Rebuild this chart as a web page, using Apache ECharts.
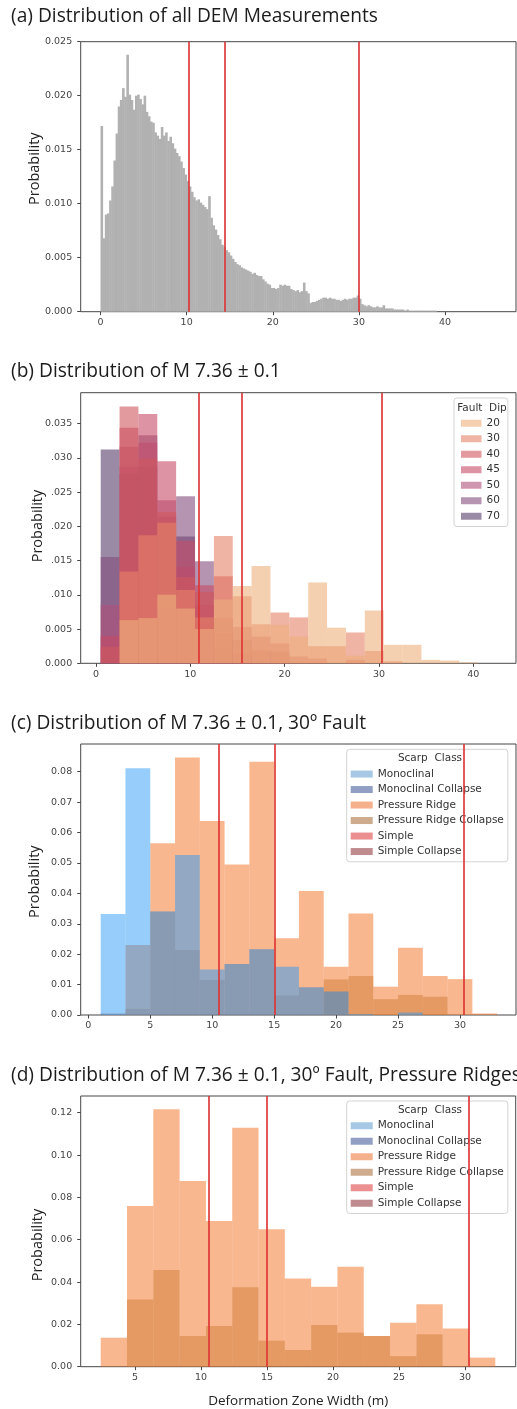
<!DOCTYPE html>
<html>
<head>
<meta charset="utf-8">
<script src="https://cdn.jsdelivr.net/npm/echarts@6/dist/echarts.min.js"></script>
<style>
  html, body { margin: 0; padding: 0; background: #ffffff; }
  #chart { width: 517px; height: 1409px; }
</style>
</head>
<body>
<div id="chart"></div>
<script>
// ---------- (a) all DEM measurements: probability per 0.25 m bin from 0 m ----------
const demBinStart = 0;
const demBinWidth = 0.25;
const demProbability = [
  0.0172, 0.0068, 0.0090, 0.0091, 0.0103, 0.0116, 0.0140, 0.0165,
  0.0190, 0.0196, 0.0207, 0.0199, 0.0238, 0.0201, 0.0196, 0.0187,
  0.0200, 0.0201, 0.0197, 0.0192, 0.0200, 0.0185, 0.0181, 0.0176,
  0.0175, 0.0166, 0.0163, 0.0160, 0.0171, 0.0163, 0.0166, 0.0158,
  0.0162, 0.0156, 0.0151, 0.0147, 0.0144, 0.0139, 0.0133, 0.0127,
  0.0121, 0.0116, 0.0111, 0.0106, 0.0103, 0.0104, 0.0101, 0.0099,
  0.0097, 0.0095, 0.0107, 0.0087, 0.0080, 0.0076, 0.0071, 0.0067,
  0.0062, 0.0060, 0.0057, 0.0055, 0.0052, 0.0049, 0.0046, 0.0044,
  0.0043, 0.0041, 0.0040, 0.0039, 0.0038, 0.0037, 0.0035, 0.0036,
  0.0034, 0.0033, 0.0033, 0.0030, 0.0028, 0.0026, 0.0025, 0.0022,
  0.0022, 0.0021, 0.0022, 0.0025, 0.0024, 0.0025, 0.0024, 0.0024,
  0.0021, 0.0020, 0.0019, 0.0020, 0.0018, 0.0019, 0.0027, 0.0019,
  0.0017, 0.0008, 0.0009, 0.0009, 0.0010, 0.0011, 0.0012, 0.0013,
  0.0013, 0.0012, 0.0013, 0.0012, 0.0012, 0.0011, 0.0011, 0.0010,
  0.0011, 0.0012, 0.0011, 0.0012, 0.0012, 0.0013, 0.0013, 0.0015,
  0.0012, 0.0007, 0.0006, 0.0005, 0.0006, 0.0005, 0.0004, 0.0004,
  0.0005, 0.0004, 0.0004, 0.0006, 0.0003, 0.0003, 0.0003, 0.0003,
  0.0002, 0.0002, 0.0002, 0.0002, 0.0002, 0.0001, 0.0002, 0.0001,
  0.0001, 0.0001, 0.0001, 0.0001, 0.0001, 0.0001, 0.0001, 0.0001,
  0.0001, 0.0001, 0.0001, 0.0001
];
const demRefLines = [10.3, 14.4, 30.0];
const demTicksX = [0, 10, 20, 30, 40];
const demTicksY = [0, 0.005, 0.010, 0.015, 0.020, 0.025];
const demTickLabelsY = ['0.000', '0.005', '0.010', '0.015', '0.020', '0.025'];

// ---------- (b) M 7.36 ± 0.1 by fault dip: probability per 2 m bin from 0.5 m ----------
const dipBinStart = 0.5;
const dipBinWidth = 2;
const dipNames = ['20', '30', '40', '45', '50', '60', '70'];
const dip20 = [0, 0.0063, 0.0066, 0.0100, 0.0080, 0.0050, 0.0093, 0.0113, 0.0142, 0.0056, 0.0039, 0.0118, 0.0052, 0.0011, 0.0077, 0.0027, 0.0027, 0.0005, 0.0004, 0.00015];
const dip30 = [0, 0.0134, 0.0187, 0.0205, 0.0107, 0.0067, 0.0186, 0.0098, 0.0057, 0.0074, 0.0067, 0.0025, 0.0025, 0.0045, 0.0018, 0.0003, 0, 0, 0, 0];
const dip40 = [0.0024, 0.0375, 0.0299, 0.0221, 0.0126, 0.0104, 0.0127, 0.0053, 0.0039, 0.0029, 0.0010, 0.0007, 0, 0.0005, 0, 0, 0, 0, 0, 0];
const dip45 = [0.0040, 0.0344, 0.0364, 0.0295, 0.0179, 0.0114, 0.0066, 0.0034, 0.0019, 0.0017, 0, 0, 0, 0, 0, 0, 0, 0, 0, 0];
const dip50 = [0.0085, 0.0316, 0.0322, 0.0238, 0.0141, 0.0085, 0.0044, 0.0015, 0, 0, 0, 0, 0, 0, 0, 0, 0, 0, 0, 0];
const dip60 = [0.0155, 0.0287, 0.0333, 0.0214, 0.0244, 0.0149, 0.0024, 0, 0, 0, 0, 0, 0, 0, 0, 0, 0, 0, 0, 0];
const dip70 = [0.0312, 0.0277, 0.0287, 0.0080, 0.0185, 0.0060, 0, 0, 0, 0, 0, 0, 0, 0, 0, 0, 0, 0, 0, 0];
const dipRefLines = [10.9, 15.45, 30.3];
const dipTicksX = [0, 10, 20, 30, 40];
const dipTicksY = [0, 0.005, 0.010, 0.015, 0.020, 0.025, 0.030, 0.035];
const dipTickLabelsY = ['0.000', '0.005', '.010', '.015', '.020', '.025', '.030', '0.035'];

// ---------- (c) 30º fault by scarp class: probability per 2 m bin from 1 m ----------
const scarpNames = ['Monoclinal', 'Monoclinal Collapse', 'Pressure Ridge', 'Pressure Ridge Collapse', 'Simple', 'Simple Collapse'];
const faultBinStart = 1;
const faultBinWidth = 2;
const faultPressureRidge = [0, 0.0230, 0.0565, 0.0847, 0.0638, 0.0495, 0.0833, 0.0252, 0.0408, 0.0159, 0.0334, 0.0093, 0.0221, 0.0128, 0.0118, 0.0005];
const faultPressureRidgeCollapse = [0, 0, 0, 0, 0, 0, 0, 0, 0, 0.0117, 0.0128, 0.0052, 0.0066, 0.0060, 0, 0];
const faultMonoclinal = [0.0332, 0.0811, 0.0340, 0.0526, 0.0150, 0.0168, 0.0216, 0.0159, 0.0091, 0.0077, 0.0003, 0, 0.0008, 0, 0, 0];
const faultMonoclinalCollapse = [0.0006, 0.0020, 0.0340, 0.0214, 0.0115, 0.0168, 0.0216, 0.0064, 0.0091, 0.0077, 0, 0, 0, 0, 0, 0];
const faultSimple = [];
const faultSimpleCollapse = [];
const faultRefLines = [10.5, 15.05, 30.3];
const faultTicksX = [0, 5, 10, 15, 20, 25, 30];
const faultTicksY = [0, 0.01, 0.02, 0.03, 0.04, 0.05, 0.06, 0.07, 0.08];
const faultTickLabelsY = ['0.00', '0.01', '0.02', '0.03', '0.04', '0.05', '0.06', '0.07', '0.08'];

// ---------- (d) 30º fault, pressure ridges only: 15 bins from 2.4 m to 32.3 m ----------
const ridgeBinStart = 2.4;
const ridgeBinWidth = 1.993;
const ridgePressureRidge = [0.0137, 0.0759, 0.1216, 0.0877, 0.0688, 0.1129, 0.0649, 0.0417, 0.0378, 0.0472, 0.0145, 0.0208, 0.0295, 0.0181, 0.0043];
const ridgePressureRidgeCollapse = [0, 0.0318, 0.0457, 0.0145, 0.0192, 0.0375, 0.0123, 0.0079, 0.0197, 0.0161, 0.0145, 0.0050, 0.0153, 0, 0];
const ridgeRefLines = [10.6, 15.0, 30.3];
const ridgeTicksX = [5, 10, 15, 20, 25, 30];
const ridgeTicksY = [0, 0.02, 0.04, 0.06, 0.08, 0.10, 0.12];
const ridgeTickLabelsY = ['0.00', '0.02', '0.04', '0.06', '0.08', '0.10', '0.12'];

// ---------- styling ----------
const dipColors = { '20': '#edaf7b', '30': '#e68267', '40': '#cf575d', '45': '#c64b66', '50': '#af527a', '60': '#824d7b', '70': '#583c6b' };
const dipLegendColors = { '20': '#f4cfb0', '30': '#f0b4a4', '40': '#e29a9e', '45': '#dd93a3', '50': '#cf97af', '60': '#b494b0', '70': '#9b8aa6' };
const scarpColors = {
  'Monoclinal': '#2d9bf5', 'Monoclinal Collapse': '#75778f', 'Pressure Ridge': '#f37021',
  'Pressure Ridge Collapse': '#d17d36', 'Simple': '#e0393e', 'Simple Collapse': '#8c2a35'
};
const scarpOpacity = {
  'Monoclinal': 0.5, 'Monoclinal Collapse': 0.3, 'Pressure Ridge': 0.5,
  'Pressure Ridge Collapse': 0.5, 'Simple': 0.5, 'Simple Collapse': 0.5
};
const scarpLegendColors = {
  'Monoclinal': '#a6c8e4', 'Monoclinal Collapse': '#909fc3', 'Pressure Ridge': '#f5b18c',
  'Pressure Ridge Collapse': '#cfab8e', 'Simple': '#eb8f91', 'Simple Collapse': '#bf8b8f'
};

const tickFont = 'DejaVu Sans';
const titleFont = 'Open Sans';
const frameColor = '#474747';

// one histogram layer = rectangles between bin edges, placed through the grid's axes
function histRenderer(color, opacity, pad) {
  return function (params, api) {
    const h = api.value(2);
    if (!(h > 0)) return null;
    const tl = api.coord([api.value(0), h]);
    const br = api.coord([api.value(1), 0]);
    return {
      type: 'rect',
      shape: { x: tl[0], y: tl[1], width: br[0] - tl[0] + pad, height: br[1] - tl[1] },
      style: { fill: color, opacity: opacity }
    };
  };
}

function histSeries(name, gridIndex, start, width, values, color, opacity, pad) {
  return {
    type: 'custom',
    name: name,
    xAxisIndex: gridIndex,
    yAxisIndex: gridIndex,
    silent: true,
    itemStyle: { color: color, opacity: opacity },
    encode: { x: [0, 1], y: 2 },
    data: values.map((v, i) => [start + i * width, start + (i + 1) * width, v]),
    renderItem: histRenderer(color, opacity, pad || 0)
  };
}

function refLineSeries(gridIndex, lines) {
  return {
    type: 'line',
    xAxisIndex: gridIndex,
    yAxisIndex: gridIndex,
    data: [],
    silent: true,
    z: 5,
    markLine: {
      silent: true,
      symbol: 'none',
      label: { show: false },
      animation: false,
      lineStyle: { color: '#dd3333', width: 2, type: 'solid', opacity: 0.82 },
      data: lines.map(v => ({ xAxis: v }))
    }
  };
}

function xAxisFor(gridIndex, min, max, ticks, name) {
  const ax = {
    type: 'value', gridIndex: gridIndex, min: min, max: max,
    axisLine: { show: false, onZero: false },
    splitLine: { show: false },
    axisTick: { show: true, length: 3.5, customValues: ticks, lineStyle: { color: frameColor, width: 1 } },
    axisLabel: {
      customValues: ticks, margin: 6, fontSize: 9.5, fontFamily: tickFont, color: '#444',
      formatter: v => String(v)
    }
  };
  if (name) {
    ax.name = name;
    ax.nameLocation = 'middle';
    ax.nameGap = 27;
    ax.nameTextStyle = { fontSize: 13.5, fontFamily: titleFont, color: '#222' };
  }
  return ax;
}

function yAxisFor(gridIndex, max, ticks, labels) {
  return {
    type: 'value', gridIndex: gridIndex, min: 0, max: max,
    axisLine: { show: false, onZero: false },
    splitLine: { show: false },
    axisTick: { show: true, length: 3.5, customValues: ticks, lineStyle: { color: frameColor, width: 1 } },
    axisLabel: {
      customValues: ticks, margin: 8.5, fontSize: 9.5, fontFamily: tickFont, color: '#444',
      formatter: v => {
        const i = ticks.findIndex(t => Math.abs(t - v) < 1e-9);
        return i >= 0 ? labels[i] : '';
      }
    }
  };
}

const gridBase = { show: true, borderColor: frameColor, borderWidth: 1, backgroundColor: 'transparent', containLabel: false, outerBoundsMode: 'none' };
const grids = [
  Object.assign({ left: 80.7, top: 41.7, width: 435.3, height: 270 }, gridBase),
  Object.assign({ left: 80.7, top: 392.7, width: 435.3, height: 270.6 }, gridBase),
  Object.assign({ left: 80.7, top: 744, width: 435.3, height: 271 }, gridBase),
  Object.assign({ left: 80.7, top: 1096, width: 435, height: 270.7 }, gridBase)
];

const series = [];
// (a)
series.push(histSeries('DEM', 0, demBinStart, demBinWidth, demProbability, '#b1b1b1', 1, 0.45));
series.push(refLineSeries(0, demRefLines));
// (b): steep dips underneath, shallow dips on top
const dipValues = { '20': dip20, '30': dip30, '40': dip40, '45': dip45, '50': dip50, '60': dip60, '70': dip70 };
dipNames.slice().reverse().forEach(n => {
  series.push(histSeries(n, 1, dipBinStart, dipBinWidth, dipValues[n], dipColors[n], 0.6, 0));
});
series.push(refLineSeries(1, dipRefLines));
// (c)
const faultValues = {
  'Pressure Ridge': faultPressureRidge, 'Pressure Ridge Collapse': faultPressureRidgeCollapse,
  'Monoclinal': faultMonoclinal, 'Monoclinal Collapse': faultMonoclinalCollapse,
  'Simple': faultSimple, 'Simple Collapse': faultSimpleCollapse
};
['Pressure Ridge', 'Pressure Ridge Collapse', 'Monoclinal', 'Monoclinal Collapse', 'Simple', 'Simple Collapse'].forEach(n => {
  series.push(histSeries(n, 2, faultBinStart, faultBinWidth, faultValues[n], scarpColors[n], scarpOpacity[n], 0));
});
series.push(refLineSeries(2, faultRefLines));
// (d)
series.push(histSeries('Pressure Ridge', 3, ridgeBinStart, ridgeBinWidth, ridgePressureRidge, scarpColors['Pressure Ridge'], 0.5, 0));
series.push(histSeries('Pressure Ridge Collapse', 3, ridgeBinStart, ridgeBinWidth, ridgePressureRidgeCollapse, scarpColors['Pressure Ridge Collapse'], 0.5, 0));
series.push(refLineSeries(3, ridgeRefLines));

const legendText = { fontSize: 10.5, fontFamily: tickFont, color: '#333', lineHeight: 12.5 };
const legendBox = {
  orient: 'vertical', icon: 'rect', selectedMode: false,
  backgroundColor: 'rgba(255,255,255,0.85)', borderColor: '#d3d3d3', borderWidth: 1, borderRadius: 3,
  itemGap: 3, textStyle: legendText
};
const legends = [
  Object.assign({}, legendBox, {
    left: 454, top: 398, itemWidth: 20.5, itemHeight: 7, itemTextGap: 8,
    padding: [19, 8, 4, 7],
    data: dipNames.map(n => ({ name: n, itemStyle: { color: dipLegendColors[n], opacity: 1 } }))
  }),
  Object.assign({}, legendBox, {
    left: 346.7, top: 749.3, itemWidth: 22, itemHeight: 7, itemTextGap: 8,
    padding: [18.5, 4, 4, 4],
    data: scarpNames.map(n => ({ name: n, itemStyle: { color: scarpLegendColors[n], opacity: 1 } }))
  }),
  Object.assign({}, legendBox, {
    left: 346.7, top: 1101, itemWidth: 22, itemHeight: 7, itemTextGap: 8,
    padding: [18.5, 4, 4, 4],
    data: scarpNames.map(n => ({ name: n, itemStyle: { color: scarpLegendColors[n], opacity: 1 } }))
  })
];

function titleText(text, y) {
  return { type: 'text', x: 11, y: y, z: 100, scaleX: 0.958,
    style: { text: text, fontSize: 20, fontFamily: titleFont, fill: '#1c1c1c', verticalAlign: 'middle' } };
}
function yNameText(x, y) {
  return { type: 'text', x: x, y: y, rotation: Math.PI / 2, z: 100,
    style: { text: 'Probability', fontSize: 14.5, fontFamily: titleFont, fill: '#222', align: 'center', verticalAlign: 'middle' } };
}
function legendTitle(text, x, y) {
  return { type: 'text', x: x, y: y, z: 100,
    style: { text: text, fontSize: 10.5, fontFamily: tickFont, fill: '#333', align: 'center', verticalAlign: 'middle' } };
}

const option = {
  animation: false,
  backgroundColor: '#ffffff',
  grid: grids,
  xAxis: [
    xAxisFor(0, -2.3, 48.24, demTicksX),
    xAxisFor(1, -1.62, 44.53, dipTicksX),
    xAxisFor(2, -0.613, 34.52, faultTicksX),
    xAxisFor(3, 0.886, 33.84, ridgeTicksX, 'Deformation Zone Width (m)')
  ],
  yAxis: [
    yAxisFor(0, 0.025, demTicksY, demTickLabelsY),
    yAxisFor(1, 0.0395, dipTicksY, dipTickLabelsY),
    yAxisFor(2, 0.0891, faultTicksY, faultTickLabelsY),
    yAxisFor(3, 0.1279, ridgeTicksY, ridgeTickLabelsY)
  ],
  legend: legends,
  series: series,
  graphic: [
    titleText('(a) Distribution of all DEM Measurements', 16.5),
    titleText('(b) Distribution of M 7.36 \u00b1 0.1', 371),
    titleText('(c) Distribution of M 7.36 \u00b1 0.1, 30\u00ba Fault', 723.3),
    titleText('(d) Distribution of M 7.36 \u00b1 0.1, 30\u00ba Fault, Pressure Ridges', 1075),
    yNameText(35, 168.7),
    yNameText(38.3, 526),
    yNameText(35, 881.7),
    yNameText(38.3, 1245),
    legendTitle('Fault  Dip', 482, 408),
    legendTitle('Scarp  Class', 430, 758),
    legendTitle('Scarp  Class', 430, 1110)
  ]
};

const chart = echarts.init(document.getElementById('chart'), null, { renderer: 'canvas' });
chart.setOption(option);
</script>
</body>
</html>
